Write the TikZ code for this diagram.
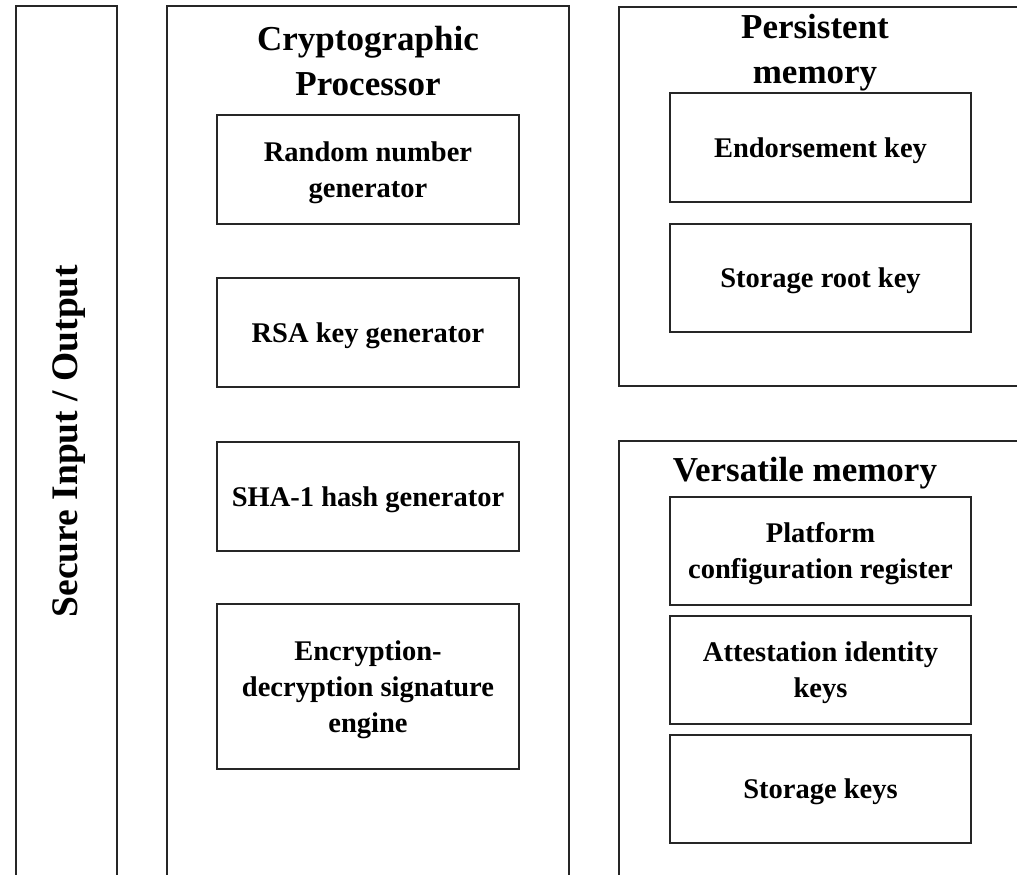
\documentclass[tikz,border=0pt]{standalone}
\usepackage{fontspec}
\setmainfont{Liberation Serif}
\begin{document}
\begin{tikzpicture}[x=1pt,y=-1pt,
  frame/.style={draw=black!85, line width=2.6pt},
  unit/.style={draw=black!85, line width=2.8pt, minimum width=302pt,
    minimum height=109pt, inner sep=0pt},
  txt/.style={align=center, inner sep=0pt, yshift=-3pt,
    font=\bfseries\fontsize{28.5}{36}\selectfont},
  heading/.style={font=\bfseries\fontsize{35}{45}\selectfont, align=center,
    inner sep=0pt}]
\useasboundingbox (0,0) rectangle (1017,875);
\clip (0,0) rectangle (1017,875);

% outer frames
\draw[frame] (16,6) rectangle (117,876.5);
\draw[frame] (167,6) rectangle (569,876.5);
\draw[frame] (619,7) rectangle (1040,386);
\draw[frame] (619,441) rectangle (1040,876.5);

% frame captions
\node[rotate=90, anchor=base, inner sep=0pt,
  font=\bfseries\fontsize{37.5}{45}\selectfont] (io) at (77,441) {Secure Input / Output};
\node[heading] (cpt) at (368,61.5) {Cryptographic\\Processor};
\node[heading] (pmt) at (815,52.5) {Persistent\\memory};
\node[heading] (vmt) at (805,473) {Versatile memory};

% cryptographic processor units
\node[unit, label={[txt]center:{Random number\\generator}}] (rng) at (368,169.5) {};
\node[unit, label={[txt]center:{RSA key generator}}] (rsa) at (368,332.5) {};
\node[unit, label={[txt]center:{SHA-1 hash generator}}] (sha) at (368,496.5) {};
\node[unit, minimum height=165pt,
  label={[txt]center:{Encryption-\\decryption signature\\engine}}] (enc) at (368,686.5) {};

% persistent memory units
\node[unit, minimum width=301pt,
  label={[txt]center:{Endorsement key}}] (ek) at (820.5,147.5) {};
\node[unit, minimum width=301pt, minimum height=108pt,
  label={[txt]center:{Storage root key}}] (srk) at (820.5,278) {};

% versatile memory units
\node[unit, minimum width=301pt, minimum height=108pt,
  label={[txt]center:{Platform\\configuration register}}] (pcr) at (820.5,551) {};
\node[unit, minimum width=301pt, minimum height=108pt,
  label={[txt]center:{Attestation identity\\keys}}] (aik) at (820.5,670) {};
\node[unit, minimum width=301pt, minimum height=108pt,
  label={[txt]center:{Storage keys}}] (sk) at (820.5,789) {};
\end{tikzpicture}
\end{document}
